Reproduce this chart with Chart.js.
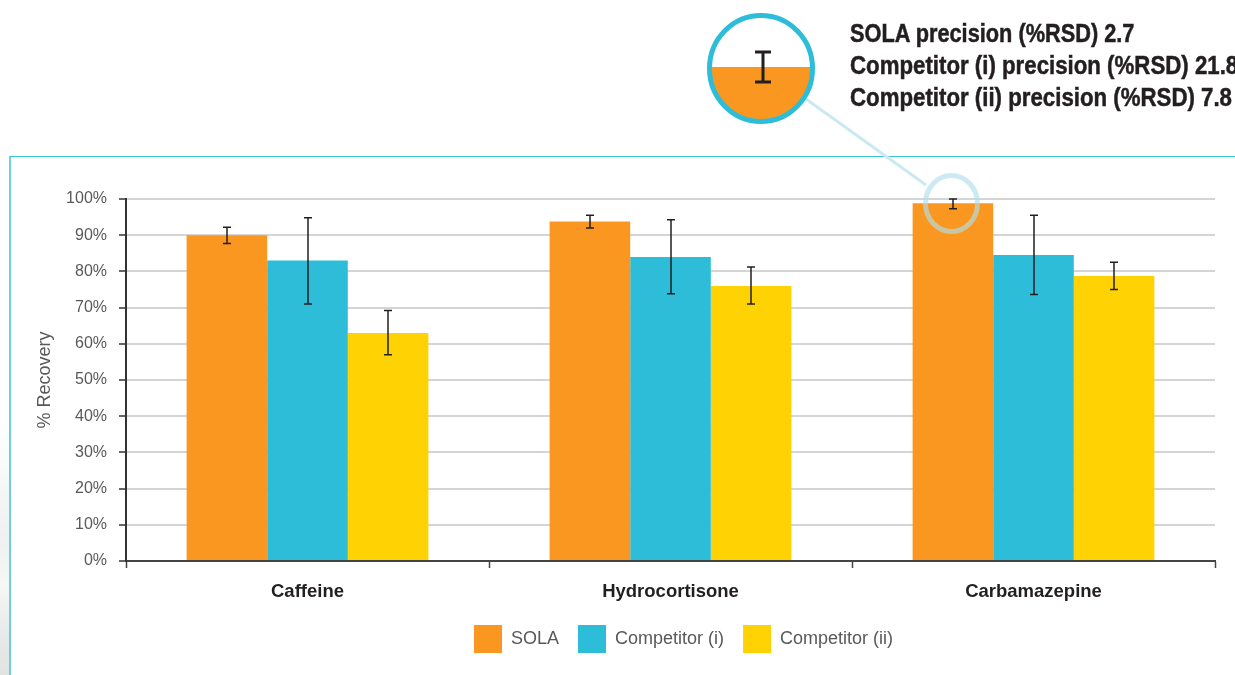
<!DOCTYPE html>
<html>
<head>
<meta charset="utf-8">
<title>% Recovery</title>
<script src="https://cdn.jsdelivr.net/npm/chart.js@4/dist/chart.umd.min.js"></script>
<style>
  html, body { margin: 0; padding: 0; background: #fff; overflow: hidden; }
  #stage { position: relative; width: 1235px; height: 675px; overflow: hidden; }
  #shade { position: absolute; left: 0; top: 420px; width: 10px; height: 255px;
           background: linear-gradient(to bottom, #fff, #eef1f1 47%, #f7f8f5 65%, #e9eaea 82%, #e2e2e1 100%); }
  #frame { position: absolute; left: 9px; top: 156px; width: 1300px; height: 600px;
           border-left: 2px solid #6ccfe6; border-top: 1.5px solid #3cc6de; box-sizing: border-box; }
  canvas { position: absolute; left: 0; top: 0; }
  .note { position: absolute; left: 850px; white-space: nowrap; color: #231f20;
          font: bold 25px "Liberation Sans", sans-serif; line-height: 32px;
          -webkit-text-stroke: 0.5px #231f20;
          transform-origin: left center; transform: scaleX(0.89); }
</style>
</head>
<body>
<div id="stage">
  <div id="shade"></div>
  <div id="frame"></div>
  <canvas id="chart" width="1235" height="675"></canvas>
  <div class="note" style="top:17px; transform:scaleX(0.87)">SOLA precision (%RSD) 2.7</div>
  <div class="note" style="top:49px">Competitor (i) precision (%RSD) 21.8</div>
  <div class="note" style="top:81px">Competitor (ii) precision (%RSD) 7.8</div>
</div>
<script>
const categories = ["Caffeine", "Hydrocortisone", "Carbamazepine"];
const yTicks = [0, 10, 20, 30, 40, 50, 60, 70, 80, 90, 100];

const sola = [90, 93.8, 98.8];
const sola_lo = [87.7, 92, 97.3];
const sola_hi = [92.2, 95.5, 100];

const compI = [83, 84, 84.5];
const compI_lo = [71, 73.8, 73.6];
const compI_hi = [94.8, 94.3, 95.5];

const compII = [63, 76, 78.7];
const compII_lo = [57, 71, 75];
const compII_hi = [69.2, 81.2, 82.5];

const ORANGE = "#f99720";
const BLUE = "#2dbdd9";
const YELLOW = "#ffd204";
const FONT = "'Liberation Sans', sans-serif";

// error bars + the magnifier callout, drawn on top of the bars
const errorBars = {
  id: "errorBars",
  afterDatasetsDraw(chart) {
    const c = chart.ctx, y = chart.scales.y;
    c.save();
    c.strokeStyle = "#231f20";
    c.lineWidth = 1.5;
    chart.data.datasets.forEach((ds, i) => {
      chart.getDatasetMeta(i).data.forEach((bar, j) => {
        const x = Math.round(bar.x);
        const top = y.getPixelForValue(ds.hi[j]);
        const bot = y.getPixelForValue(ds.lo[j]);
        c.beginPath();
        c.moveTo(x, top); c.lineTo(x, bot);
        c.moveTo(x - 4, top); c.lineTo(x + 4, top);
        c.moveTo(x - 4, bot); c.lineTo(x + 4, bot);
        c.stroke();
      });
    });
    c.restore();
  }
};

const callout = {
  id: "callout",
  afterDraw(chart) {
    const c = chart.ctx;
    c.save();
    // leader line
    c.strokeStyle = "#cbe9f2";
    c.lineWidth = 3;
    c.beginPath(); c.moveTo(806, 99); c.lineTo(926, 185); c.stroke();
    // small ring round the SOLA error bar
    c.strokeStyle = "rgba(175,222,235,0.65)";
    c.lineWidth = 5;
    c.beginPath(); c.ellipse(951.5, 203.5, 26, 28, 0, 0, Math.PI * 2); c.stroke();
    // big lens
    const cx = 761, cy = 68.5, rx = 51.5, ry = 53;
    c.save();
    c.beginPath(); c.ellipse(cx, cy, rx, ry, 0, 0, Math.PI * 2); c.clip();
    c.fillStyle = "#fff"; c.fillRect(cx - rx, cy - ry, rx * 2, ry * 2);
    c.fillStyle = ORANGE; c.fillRect(cx - rx, 67, rx * 2, ry + 2);
    c.restore();
    c.strokeStyle = "#2dbdd9";
    c.lineWidth = 5;
    c.beginPath(); c.ellipse(cx, cy, rx, ry, 0, 0, Math.PI * 2); c.stroke();
    // lens error bar
    c.strokeStyle = "#231f20";
    c.lineWidth = 3;
    c.beginPath();
    c.moveTo(763, 52); c.lineTo(763, 82);
    c.moveTo(755, 52); c.lineTo(771, 52);
    c.moveTo(755, 82); c.lineTo(771, 82);
    c.stroke();
    c.restore();
  }
};

// the legend sits on its own spot, not centred on the canvas
const legendSpot = {
  id: "legendSpot",
  afterLayout(chart) {
    chart.legend.left = 455;
    chart.legend.right = 1200;
  }
};

new Chart(document.getElementById("chart"), {
  type: "bar",
  data: {
    labels: categories,
    datasets: [
      { label: "SOLA", data: sola, lo: sola_lo, hi: sola_hi, backgroundColor: ORANGE },
      { label: "Competitor (i)", data: compI, lo: compI_lo, hi: compI_hi, backgroundColor: BLUE },
      { label: "Competitor (ii)", data: compII, lo: compII_lo, hi: compII_hi, backgroundColor: YELLOW }
    ]
  },
  plugins: [errorBars, callout, legendSpot],
  options: {
    responsive: false,
    animation: false,
    layout: { padding: { left: 34, right: 20, top: 199, bottom: 12 } },
    datasets: { bar: { barPercentage: 1, categoryPercentage: 0.666 } },
    plugins: {
      tooltip: { enabled: false },
      legend: {
        position: "bottom",
        align: "start",
        labels: {
          boxWidth: 28, boxHeight: 28, padding: 19,
          color: "#58595b",
          font: { family: FONT, size: 18 }
        }
      }
    },
    scales: {
      x: {
        afterFit(s) { s.height = 45; },
        grid: { drawOnChartArea: false, tickLength: 7, tickColor: "#444", tickWidth: 1.5 },
        border: { color: "#444", width: 2 },
        ticks: { color: "#231f20", padding: 13, maxRotation: 0, font: { family: FONT, size: 18.5, weight: "bold" } }
      },
      y: {
        min: 0,
        max: 100,
        afterFit(s) { s.width = 92; },
        afterBuildTicks(s) { s.ticks = yTicks.map(v => ({ value: v })); },
        title: { display: true, text: "% Recovery", color: "#58595b", padding: 0, font: { family: FONT, size: 18 } },
        grid: { color: "#d5d5d5", lineWidth: 2, tickColor: "#333", tickLength: 7, tickWidth: 1.5 },
        border: { color: "#333", width: 2 },
        ticks: { color: "#58595b", padding: 12, font: { family: FONT, size: 16 }, callback: v => v + "%" }
      }
    }
  }
});
</script>
</body>
</html>
